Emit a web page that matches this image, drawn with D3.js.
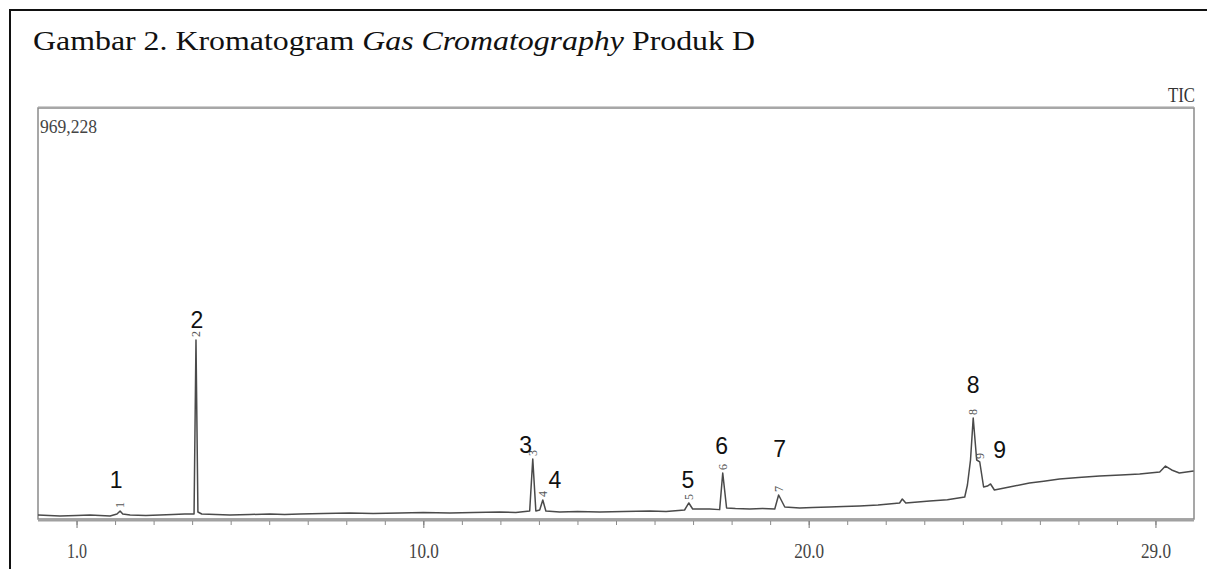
<!DOCTYPE html>
<html>
<head>
<meta charset="utf-8">
<script src="https://cdn.jsdelivr.net/npm/d3@7"></script>
<style>
  body { margin: 0; background: #fff; }
  svg { display: block; }
</style>
</head>
<body>
<div id="chart"></div>
<script>
// retention time (min) and TIC intensity
let retTime = [0.00, 0.57, 1.00, 1.35, 1.87, 2.05, 2.13, 2.20, 2.39, 2.80, 3.16, 3.50, 3.81, 4.05, 4.10, 4.15, 4.25,
    4.98, 5.50, 6.02, 6.40, 6.80, 7.40, 8.09, 8.70, 9.39, 10.00, 10.69, 11.30, 11.98, 12.40, 12.76, 12.84, 12.92,
    13.02, 13.10, 13.18, 13.54, 14.00, 14.58, 15.20, 15.88, 16.30, 16.78, 16.89, 16.99, 17.43, 17.69, 17.77, 17.87,
    18.10, 18.47, 18.80, 19.12, 19.22, 19.38, 19.77, 20.10, 20.54, 20.90, 21.32, 21.80, 22.36, 22.43, 22.52, 23.14,
    23.60, 24.05, 24.12, 24.20, 24.27, 24.36, 24.44, 24.54, 24.64, 24.72, 24.82, 25.21, 25.73, 26.10, 26.51, 27.00,
    27.55, 28.10, 28.59, 29.11, 29.26, 29.42, 29.62, 29.99];
let intensity = [7100, 4700, 5900, 7100, 4700, 9500, 16500, 9500, 7100, 5900, 7100, 8300, 9500, 9500, 420800, 14200, 9500,
    7100, 8300, 9500, 8300, 9500, 10600, 11800, 10600, 11800, 12900, 11800, 13000, 14200, 13000, 16500, 139500, 16500,
    18900, 42600, 16500, 14200, 15400, 14200, 15400, 16500, 15400, 18900, 35500, 21300, 21300, 19800, 106400, 23600,
    22400, 21300, 22400, 21300, 54400, 26000, 23600, 25000, 26000, 27400, 28400, 30500, 35500, 44900, 35500, 40200,
    43000, 49600, 78000, 137100, 236400, 137100, 132400, 73300, 75600, 80400, 66200, 73300, 82700, 87000, 92200, 95500,
    99300, 101500, 104000, 108700, 122900, 113500, 106400, 111100];

let peakNo = ['1', '2', '3', '4', '5', '6', '7', '8', '9'];
let peakTime = [2.13, 4.10, 12.84, 13.10, 16.89, 17.77, 19.22, 24.27, 24.44];
let peakHeight = [16500, 420800, 139500, 42600, 35500, 106400, 54400, 236400, 132400];

let tickValues = [1, 10, 20, 29];
let tickLabels = ['1.0', '10.0', '20.0', '29.0'];
let maxIntensity = 969228;

let width = 1207, height = 569,
    plot = {left: 38, top: 108, right: 1194, bottom: 519},
    serif = '"Liberation Serif", "Times New Roman", serif';

let svg = d3.select('#chart').append('svg')
    .attr('width', width)
    .attr('height', height);

// outer figure frame
svg.append('path')
    .attr('d', `M10,${height} V10 H${width}`)
    .attr('fill', 'none')
    .attr('stroke', '#111')
    .attr('stroke-width', 2);

let title = svg.append('text')
    .attr('x', 33)
    .attr('y', 50)
    .attr('font-family', serif)
    .attr('font-size', 27)
    .attr('textLength', 722)
    .attr('lengthAdjust', 'spacingAndGlyphs')
    .attr('fill', '#111');
title.append('tspan').text('Gambar 2. Kromatogram ');
title.append('tspan').attr('font-style', 'italic').text('Gas Cromatography');
title.append('tspan').text(' Produk D');

let xScale = d3.scaleLinear()
    .domain([0, 30])
    .range([plot.left, plot.right]);

let yScale = d3.scaleLinear()
    .domain([0, maxIntensity])
    .range([plot.bottom - 1, plot.top]);

// plot box
svg.append('rect')
    .attr('x', plot.left)
    .attr('y', plot.top)
    .attr('width', plot.right - plot.left)
    .attr('height', plot.bottom - plot.top)
    .attr('fill', 'none')
    .attr('stroke', '#8a8a8a')
    .attr('stroke-width', 1.5);

svg.append('line')
    .attr('x1', plot.left).attr('x2', plot.right)
    .attr('y1', plot.top - 1.5).attr('y2', plot.top - 1.5)
    .attr('stroke', '#cfcfcf')
    .attr('stroke-width', 1);

// double bottom axis line
svg.append('line')
    .attr('x1', plot.left).attr('x2', plot.right)
    .attr('y1', plot.bottom + 1.5).attr('y2', plot.bottom + 1.5)
    .attr('stroke', '#a0a0a0')
    .attr('stroke-width', 2);

let minorAxis = d3.axisBottom(xScale)
    .tickValues(d3.range(1, 30))
    .tickSize(4)
    .tickFormat('');

let axis_g = svg.append('g')
    .attr('transform', `translate(0, ${plot.bottom + 2})`)
    .call(minorAxis);
axis_g.select('.domain').remove();
axis_g.selectAll('.tick line')
    .attr('stroke', '#8a8a8a')
    .attr('stroke-width', 1);

let majorAxis = d3.axisBottom(xScale)
    .tickValues(tickValues)
    .tickSize(7)
    .tickPadding(16)
    .tickFormat((d, i) => tickLabels[i]);

let major_g = svg.append('g')
    .attr('transform', `translate(0, ${plot.bottom + 2})`)
    .call(majorAxis);
major_g.select('.domain').remove();
major_g.selectAll('.tick line')
    .attr('stroke', '#777')
    .attr('stroke-width', 1);
major_g.selectAll('.tick text')
    .attr('font-family', serif)
    .attr('font-size', 20)
    .attr('textLength', (d, i) => tickLabels[i].length === 3 ? 20 : 30)
    .attr('lengthAdjust', 'spacingAndGlyphs')
    .attr('fill', '#444');

svg.append('text')
    .attr('x', plot.left + 2)
    .attr('y', plot.top + 25)
    .attr('font-family', serif)
    .attr('font-size', 18)
    .attr('textLength', 57)
    .attr('lengthAdjust', 'spacingAndGlyphs')
    .attr('fill', '#444')
    .text('969,228');

svg.append('text')
    .attr('x', 1168)
    .attr('y', 102)
    .attr('font-family', serif)
    .attr('font-size', 21)
    .attr('textLength', 27)
    .attr('lengthAdjust', 'spacingAndGlyphs')
    .attr('fill', '#333')
    .text('TIC');

let trace = retTime.map((t, i) => ({t: t, v: intensity[i]}));

let line = d3.line()
    .x(d => xScale(d.t))
    .y(d => yScale(d.v));

svg.append('path')
    .datum(trace)
    .attr('d', line)
    .attr('fill', 'none')
    .attr('stroke', '#4a4a4a')
    .attr('stroke-width', 1.5)
    .attr('stroke-linejoin', 'round');

let peaks = peakNo.map((n, i) => ({n: n, t: peakTime[i], v: peakHeight[i]}));

// small rotated peak numbers printed by the software
svg.append('g').selectAll('text')
    .data(peaks)
    .join('text')
    .attr('transform', d => `translate(${xScale(d.t) + 4}, ${yScale(d.v) - 6}) rotate(-90)`)
    .attr('text-anchor', 'middle')
    .attr('font-family', serif)
    .attr('font-size', 12)
    .attr('fill', '#555')
    .text(d => d.n);

// hand-added peak numbers
let labelOffset = [[-4, -23], [1, -12], [-7, -6], [12, -12], [-1, -15], [-1, -19], [1, -38], [0, -25], [20, -4]];

svg.append('g').selectAll('text')
    .data(peaks)
    .join('text')
    .attr('x', (d, i) => xScale(d.t) + labelOffset[i][0])
    .attr('y', (d, i) => yScale(d.v) + labelOffset[i][1])
    .attr('text-anchor', 'middle')
    .attr('font-family', '"Liberation Sans", Arial, sans-serif')
    .attr('font-size', 23)
    .attr('fill', '#111')
    .text(d => d.n);
</script>
</body>
</html>
